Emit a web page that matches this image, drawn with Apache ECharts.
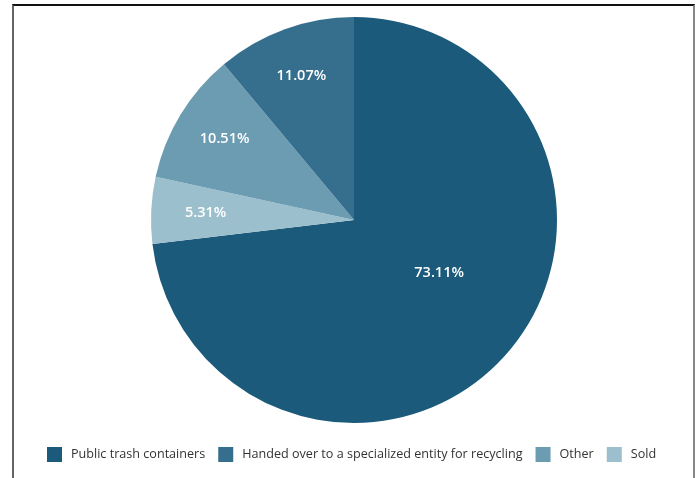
<!DOCTYPE html>
<html>
<head>
<meta charset="utf-8">
<script src="https://cdn.jsdelivr.net/npm/echarts@6/dist/echarts.min.js"></script>
<style>
html,body{margin:0;padding:0;background:#fff;}
#frame{position:absolute;left:12px;top:4px;width:679px;height:480px;border-left:2px solid #666;border-right:2px solid #888;border-top:2px solid #111;}
#chart{position:absolute;left:0;top:0;width:697px;height:478px;}
</style>
</head>
<body>
<div id="frame"></div>
<div id="chart"></div>
<script>
var categories = ["Public trash containers", "Sold", "Other", "Handed over to a specialized entity for recycling"];
var values = [73.11, 5.31, 10.51, 11.07];
var legendOrder = ["Public trash containers", "Handed over to a specialized entity for recycling", "Other", "Sold"];
var colors = ["#1b5a7a", "#9cbfcd", "#6b9cb2", "#356f8d"];
var labelOffsets = [[7, -17], [-44, -2], [-40, -27], [-17, -46]];

var chart = echarts.init(document.getElementById('chart'), null, {renderer: 'canvas'});
var data = categories.map(function (c, i) {
  return {
    name: c,
    value: values[i],
    itemStyle: {color: colors[i]},
    label: {offset: labelOffsets[i]}
  };
});
chart.setOption({
  animation: false,
  legend: {
    data: legendOrder,
    bottom: 11,
    left: 42,
    icon: 'rect',
    itemWidth: 15,
    itemHeight: 15,
    itemGap: 13,
    textStyle: {fontFamily: 'Open Sans', fontSize: 12.6, color: '#333', padding: [0, 0, 0, 4]}
  },
  series: [{
    type: 'pie',
    center: [354, 220],
    radius: [0, 203],
    startAngle: 90,
    clockwise: true,
    data: data,
    itemStyle: {borderWidth: 0},
    label: {
      show: true,
      position: 'inside',
      formatter: function (p) { return p.value.toFixed(2) + '%'; },
      color: '#fff',
      fontFamily: 'Open Sans',
      fontSize: 14.5,
      fontWeight: 600
    },
    labelLine: {show: false},
    emphasis: {disabled: true}
  }]
});
</script>
</body>
</html>
